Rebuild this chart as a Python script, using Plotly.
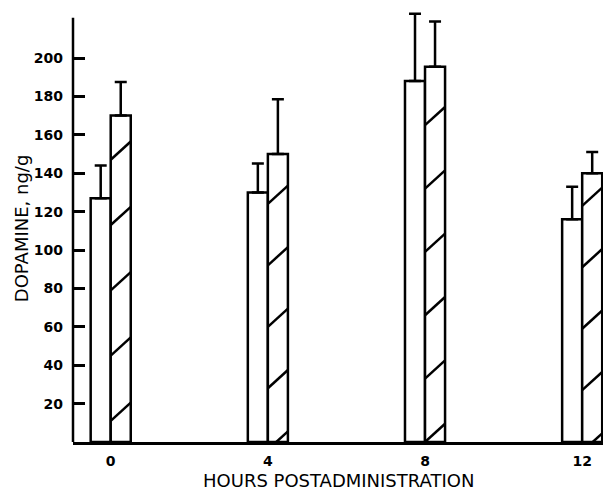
import plotly.graph_objects as go

# ---- data ----
hours = [0, 4, 8, 12]
control_mean = [127, 130, 188, 116]
control_err = [17, 15, 35, 17]
treated_mean = [170, 150, 195.5, 140]
treated_err = [17.5, 28.5, 23.5, 11]
y_ticks = [20, 40, 60, 80, 100, 120, 140, 160, 180, 200]

# ---- style ----
BAR_W = 0.51
FONT = "DejaVu Sans"
hatch_offset = [11, -4, 0, -5]
hatch_spacing = [34, 32, 33, 32]
hatch_rise = 9.5

fig = go.Figure()

fig.add_trace(go.Bar(
    x=hours, y=control_mean, width=BAR_W, offset=-BAR_W,
    marker=dict(color="white", line=dict(color="black", width=2.5)),
    error_y=dict(type="data", array=control_err, arrayminus=[0] * len(hours),
                 symmetric=False, color="black", thickness=2.5, width=6),
    showlegend=False))

fig.add_trace(go.Bar(
    x=hours, y=treated_mean, width=BAR_W, offset=0,
    marker=dict(color="white", line=dict(color="black", width=2.5)),
    error_y=dict(type="data", array=treated_err, arrayminus=[0] * len(hours),
                 symmetric=False, color="black", thickness=2.5, width=6),
    showlegend=False))

# hatch lines for treated bars, computed from bar geometry
hx, hy = [], []
for i, h in enumerate(hours):
    top = treated_mean[i]
    x0, x1 = h, h + BAR_W
    y0 = hatch_offset[i]
    while y0 < top:
        ya, yb = y0, y0 + hatch_rise
        xa, xb = x0, x1
        if yb > 0:
            if ya < 0:
                xa = x0 + (0 - ya) / hatch_rise * BAR_W
                ya = 0
            if yb > top:
                xb = x0 + (top - y0) / hatch_rise * BAR_W
                yb = top
            hx += [xa, xb, None]
            hy += [ya, yb, None]
        y0 += hatch_spacing[i]

fig.add_trace(go.Scatter(x=hx, y=hy, mode="lines",
                         line=dict(color="black", width=2.5),
                         hoverinfo="skip", showlegend=False))

TICKFONT = dict(family=FONT, size=14, weight="bold")

fig.update_layout(
    width=603, height=491,
    margin=dict(l=73, r=0, t=10, b=49),
    plot_bgcolor="white", paper_bgcolor="white",
    barmode="overlay",
    font=dict(family=FONT, color="black", size=14),
    xaxis=dict(range=[-0.96, 12.53], tickvals=hours, ticktext=[str(h) for h in hours],
               showline=True, linecolor="black", linewidth=2.5, showgrid=False,
               zeroline=False, ticks="", ticklabelstandoff=4,
               tickfont=TICKFONT),
    yaxis=dict(range=[0, 225], tickvals=y_ticks, showline=False, showgrid=False,
               zeroline=False, ticks="inside", ticklen=12, tickwidth=2.5,
               tickcolor="black", ticklabelstandoff=9,
               tickfont=TICKFONT),
    shapes=[dict(type="line", xref="paper", x0=0, x1=0, yref="y", y0=0, y1=221,
                 line=dict(color="black", width=2.5))],
    annotations=[
        dict(text="DOPAMINE, ng/g", xref="paper", yref="paper", x=0, xshift=-52,
             y=0.495, textangle=-90, showarrow=False,
             font=dict(family=FONT, size=18), xanchor="center", yanchor="middle"),
        dict(text="HOURS POSTADMINISTRATION", xref="paper", yref="paper", x=0.5,
             y=-0.0880, showarrow=False, font=dict(family=FONT, size=18),
             xanchor="center", yanchor="middle"),
    ],
)

fig.write_html("out.html")
